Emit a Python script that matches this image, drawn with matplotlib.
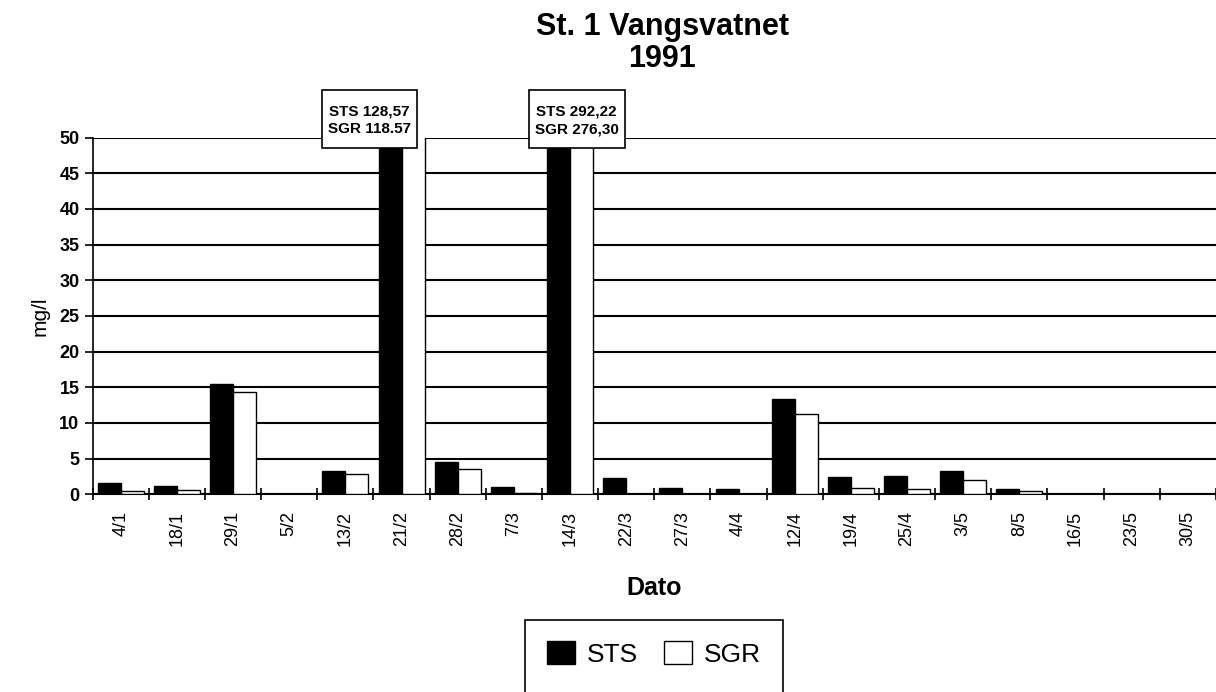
import matplotlib
matplotlib.use('Agg')
import matplotlib.pyplot as plt
from matplotlib.patches import Rectangle
import numpy as np

plt.rcParams['font.family'] = ['Liberation Sans', 'DejaVu Sans']

dates = ['4/1', '18/1', '29/1', '5/2', '13/2', '21/2', '28/2', '7/3', '14/3', '22/3',
         '27/3', '4/4', '12/4', '19/4', '25/4', '3/5', '8/5', '16/5', '23/5', '30/5']
sts = [1.6, 1.1, 15.5, 0, 3.3, 128.57, 4.5, 1.0, 292.22, 2.3,
       0.9, 0.8, 13.3, 2.4, 2.6, 3.2, 0.8, 0, 0, 0]
sgr = [0.5, 0.6, 14.4, 0, 2.8, 118.57, 3.6, 0.2, 276.30, 0,
       0.1, 0, 11.2, 0.9, 0.7, 2.0, 0.4, 0, 0, 0]
# labels for the two bars that go off the scale (text as in the original)
peak_text = ['STS 128,57\nSGR 118.57', 'STS 292,22\nSGR 276,30']
peak_box_x = [(3.58, 5.27), (7.26, 8.97)]
peak_box_y = (48.5, 56.7)

fig = plt.figure(figsize=(12.16, 6.92), dpi=100)
ax = fig.add_axes([0.0762, 0.2857, 0.9238, 0.5156])

x = np.arange(len(dates))
w = 0.41
ax.bar(x - w / 2, sts, width=w, color='black', edgecolor='black', linewidth=1, label='STS', zorder=3)
ax.bar(x + w / 2, sgr, width=w, color='white', edgecolor='black', linewidth=1, label='SGR', zorder=3)

ax.set_ylim(0, 50)
ax.set_xlim(-0.5, len(dates) - 0.5)
ax.set_yticks(np.arange(0, 51, 5))
ax.yaxis.grid(True, color='black', linewidth=1.5, zorder=0)
ax.set_axisbelow(True)

for s in ['top', 'right']:
    ax.spines[s].set_visible(False)
ax.spines['left'].set_linewidth(1.2)
ax.spines['bottom'].set_linewidth(1.5)

ax.set_xticks(x)
ax.set_xticklabels(dates, rotation=90, fontsize=13)
ax.tick_params(axis='x', which='major', length=0, pad=12)
ax.set_xticks(np.arange(-0.5, len(dates)), minor=True)
ax.tick_params(axis='x', which='minor', direction='inout', length=9, width=1.2)
ax.tick_params(axis='y', direction='out', length=6, width=1.2, labelsize=13)
for lbl in ax.get_yticklabels():
    lbl.set_fontweight('bold')

for txt, (x0, x1) in zip(peak_text, peak_box_x):
    y0, y1 = peak_box_y
    ax.add_patch(Rectangle((x0, y0), x1 - x0, y1 - y0, facecolor='white', edgecolor='black',
                           linewidth=1.2, zorder=5, clip_on=False))
    ax.text((x0 + x1) / 2, (y0 + y1) / 2 - 0.2, txt, ha='center', va='center', fontsize=11,
            fontweight='bold', linespacing=1.3, zorder=6, clip_on=False)

fig.text(40 / 1216, 0.2857 + 0.5156 / 2, 'mg/l', rotation=90, ha='center', va='center', fontsize=15)
fig.text(654 / 1216, 1 - 595 / 692, 'Dato', ha='center', va='baseline', fontsize=18, fontweight='bold')
fig.text(662 / 1216, 1 - 12 / 692, 'St. 1 Vangsvatnet\n1991', ha='center', va='top',
         fontsize=22, fontweight='bold', linespacing=1.1)

# legend entries without frame; the frame in the original runs off the bottom of the page
leg = fig.legend(loc='upper center', bbox_to_anchor=(654 / 1216, 1 - 620 / 692), ncol=2, fontsize=19,
                 frameon=False, handlelength=1.05, handleheight=0.95, borderpad=0.8,
                 columnspacing=1.0, handletextpad=0.45, borderaxespad=0)
fig.add_artist(Rectangle((525 / 1216, -0.05), 258 / 1216, (692 - 620) / 692 + 0.05,
                         transform=fig.transFigure, facecolor='none', edgecolor='black',
                         linewidth=1.2))

fig.savefig('out.png', dpi=100)
